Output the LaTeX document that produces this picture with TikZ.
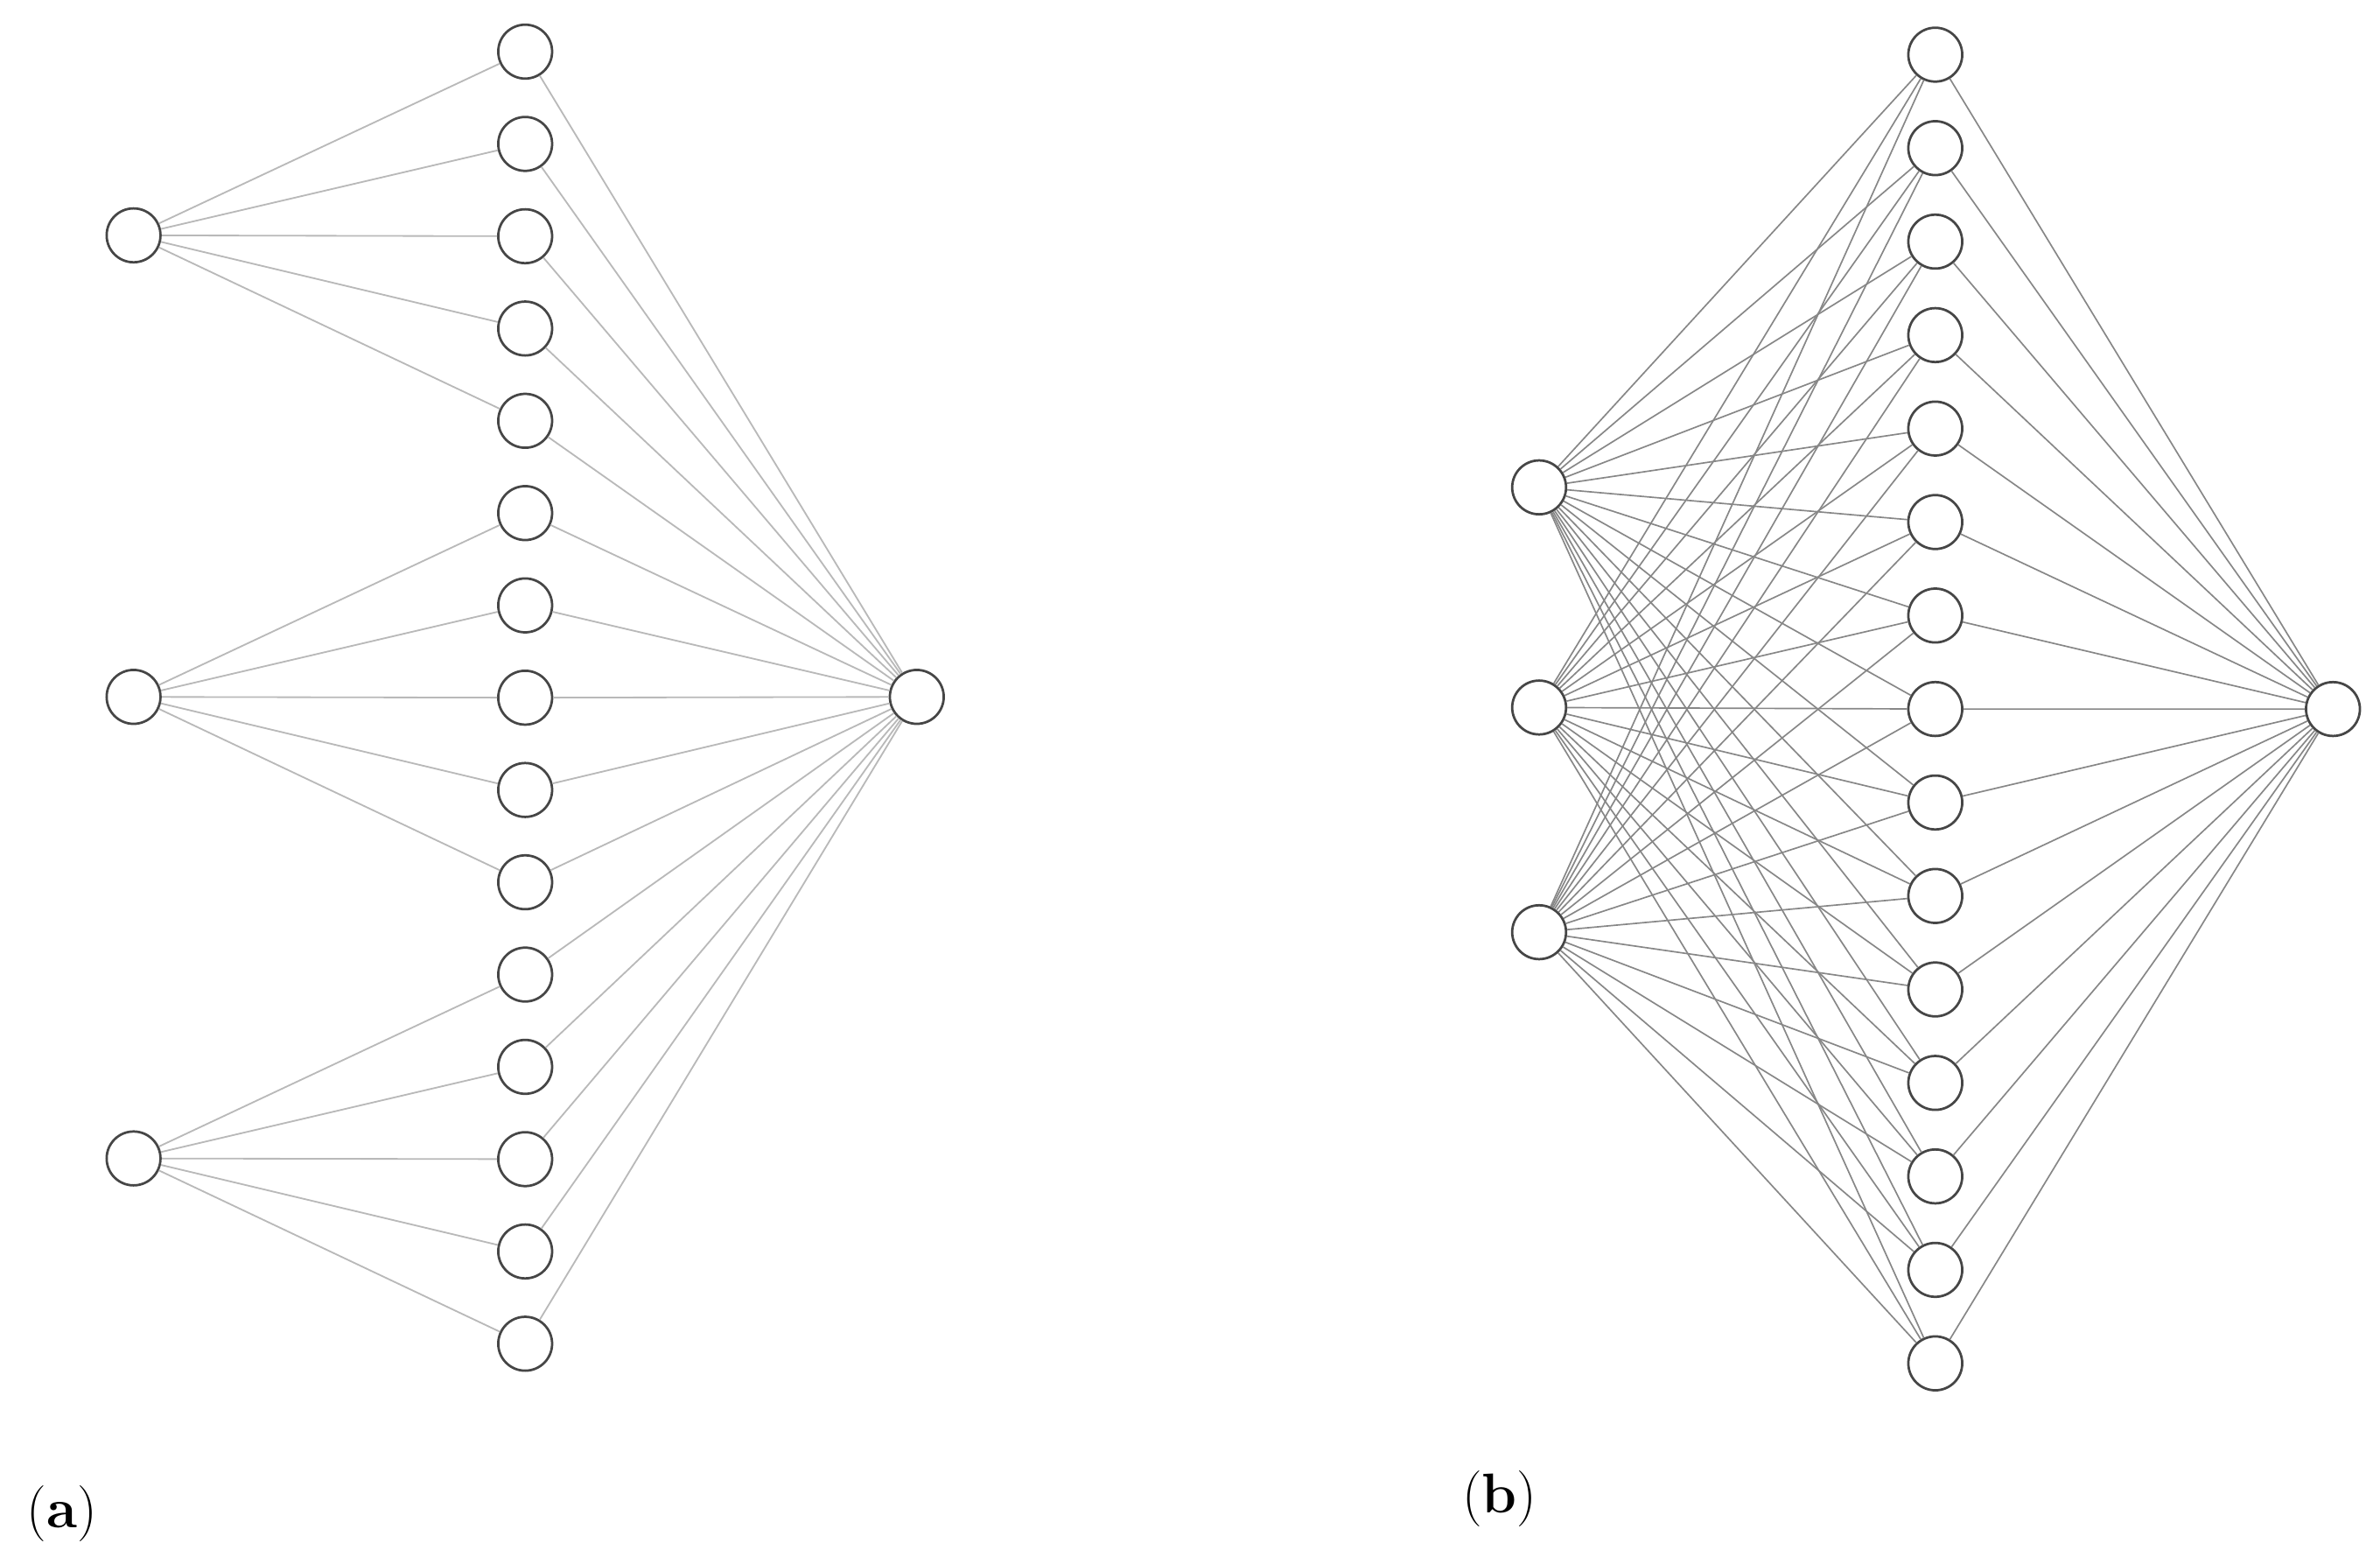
\documentclass[tikz,border=0pt]{standalone}
\usepackage{tikz}
\definecolor{nodegray}{RGB}{70,70,70}
\definecolor{edgelight}{RGB}{185,185,185}
\definecolor{edgedark}{RGB}{135,135,135}
\tikzset{
  neuron/.style={circle, draw=nodegray, line width=0.9pt, fill=white, minimum size=0.71cm, inner sep=0pt},
  linka/.style={draw=edgelight, line width=0.6pt},
  linkb/.style={draw=edgedark, line width=0.55pt},
  panellabel/.style={inner sep=0pt, font=\fontsize{21}{25}\selectfont}
}

\begin{document}
\begin{tikzpicture}[x=0.02cm, y=-0.02cm]
    \useasboundingbox (0,0) rectangle (1568,1029.6);
    % (a) grouped inputs
    \foreach \i in {1,...,15}
        \node[neuron] (ah\i) at (346, {34+(\i-1)*60.79}) {};
    \foreach \i/\y in {1/155, 2/459, 3/763}
        \node[neuron] (ai\i) at (88,\y) {};
    \node[neuron] (ao) at (604,459) {};
    \foreach \i in {1,2,3}
        \foreach \j in {1,...,5} {
            \pgfmathtruncatemacro\k{5*(\i-1)+\j}
            \draw[linka] (ai\i) -- (ah\k);
        }
    \foreach \i in {1,...,15}
        \draw[linka] (ah\i) -- (ao);

    % (b) fully connected
    \foreach \i in {1,...,15}
        \node[neuron] (bh\i) at (1275, {36+(\i-1)*61.57}) {};
    \foreach \i/\y in {1/321, 2/466, 3/614}
        \node[neuron] (bi\i) at (1014,\y) {};
    \node[neuron] (bo) at (1537,467) {};
    \foreach \i in {1,2,3}
        \foreach \k in {1,...,15}
            \draw[linkb] (bi\i) -- (bh\k);
    \foreach \i in {1,...,15}
        \draw[linkb] (bh\i) -- (bo);

    \node[panellabel] (labela) at (41,997) {(\textbf{a})};
    \node[panellabel] (labelb) at (988,987) {(\textbf{b})};
\end{tikzpicture}
\end{document}
